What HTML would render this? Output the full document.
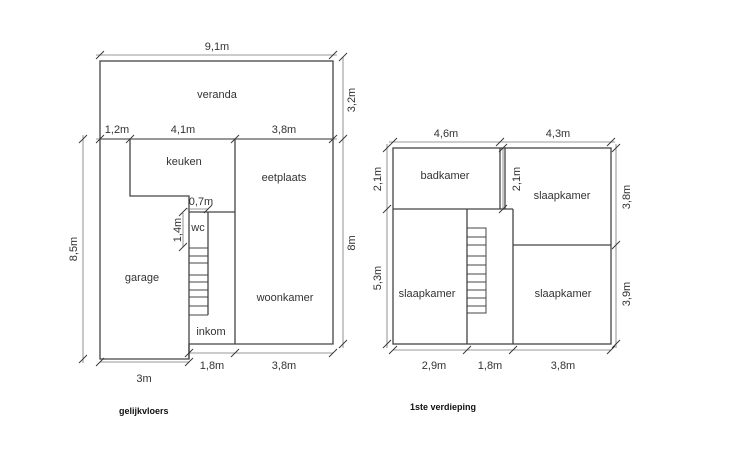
<!DOCTYPE html>
<html><head><meta charset="utf-8"><style>
html,body{margin:0;padding:0;background:#fff;}
svg{display:block}
text{font-family:"Liberation Sans",sans-serif;font-size:11px;fill:#333;}
</style></head><body>
<svg width="736" height="461" viewBox="0 0 736 461" xmlns="http://www.w3.org/2000/svg">
<g stroke="#444" stroke-width="1.3" fill="none">
<!-- left plan -->
<rect x="100" y="61" width="233" height="78"/>
<polyline points="100,139 100,359 189,359 189,344 333,344 333,139"/>
<polyline points="130,139 130,196 189,196 189,359"/>
<line x1="189" y1="212" x2="235" y2="212"/>
<line x1="208" y1="212" x2="208" y2="315"/>
<line x1="235" y1="139" x2="235" y2="344"/>
<g stroke-width="1">
<line x1="189" y1="248" x2="208" y2="248"/><line x1="189" y1="256" x2="208" y2="256"/>
<line x1="189" y1="263" x2="208" y2="263"/><line x1="189" y1="275" x2="208" y2="275"/>
<line x1="189" y1="282" x2="208" y2="282"/><line x1="189" y1="290" x2="208" y2="290"/>
<line x1="189" y1="297" x2="208" y2="297"/><line x1="189" y1="306" x2="208" y2="306"/>
<line x1="189" y1="315" x2="208" y2="315"/>
</g>
<!-- right plan -->
<rect x="393" y="148" width="218" height="196"/>
<line x1="393" y1="209" x2="513" y2="209"/>
<line x1="500" y1="148" x2="500" y2="209"/>
<line x1="505" y1="148" x2="505" y2="209"/>
<line x1="467" y1="209" x2="467" y2="344"/>
<line x1="513" y1="209" x2="513" y2="344"/>
<line x1="513" y1="245" x2="611" y2="245"/>
<g stroke-width="1">
<rect x="467" y="228" width="19" height="85"/>
<line x1="467" y1="237" x2="486" y2="237"/><line x1="467" y1="245" x2="486" y2="245"/>
<line x1="467" y1="256" x2="486" y2="256"/><line x1="467" y1="265" x2="486" y2="265"/>
<line x1="467" y1="274" x2="486" y2="274"/><line x1="467" y1="282" x2="486" y2="282"/>
<line x1="467" y1="290" x2="486" y2="290"/><line x1="467" y1="298" x2="486" y2="298"/>
<line x1="467" y1="306" x2="486" y2="306"/>
</g>
</g>
<!-- dimension lines -->
<g stroke="#777" stroke-width="0.8" fill="none">
<line x1="96" y1="55" x2="337" y2="55"/>
<line x1="343" y1="57" x2="343" y2="348"/>
<line x1="83" y1="135" x2="83" y2="363"/>
<line x1="96" y1="139" x2="337" y2="139"/>
<line x1="100" y1="362" x2="189" y2="362"/>
<line x1="189" y1="353" x2="333" y2="353"/>
<line x1="183" y1="213" x2="183" y2="247"/>
<line x1="187" y1="209" x2="208" y2="209"/>
<line x1="389" y1="142" x2="615" y2="142"/>
<line x1="616" y1="144" x2="616" y2="348"/>
<line x1="387" y1="144" x2="387" y2="348"/>
<line x1="393" y1="350" x2="611" y2="350"/>
<line x1="503" y1="148" x2="503" y2="209"/>
</g>
<g stroke="#333" stroke-width="0.9">
<path d="M96,59l8,-8M329,59l8,-8M339,61l8,-8M339,143l8,-8M339,348l8,-8M79,143l8,-8M79,363l8,-8M96,143l8,-8M126,143l8,-8M231,143l8,-8M329,143l8,-8M96,366l8,-8M185,366l8,-8M185,357l8,-8M231,357l8,-8M329,357l8,-8M179,216l8,-8M179,251l8,-8M204,213l8,-8"/>
<path d="M389,146l8,-8M496,146l8,-8M607,146l8,-8M612,152l8,-8M612,249l8,-8M612,348l8,-8M383,152l8,-8M383,213l8,-8M383,348l8,-8M389,354l8,-8M463,354l8,-8M509,354l8,-8M607,354l8,-8M499,152l8,-8M499,213l8,-8"/>
</g>
<!-- labels -->
<g text-anchor="middle">
<text x="217" y="50">9,1m</text>
<text x="217" y="98">veranda</text>
<text x="117" y="133">1,2m</text>
<text x="183" y="133">4,1m</text>
<text x="284" y="133">3,8m</text>
<text x="184" y="165">keuken</text>
<text x="284" y="181">eetplaats</text>
<text x="201" y="205">0,7m</text>
<text x="198" y="231">wc</text>
<text x="142" y="281">garage</text>
<text x="285" y="301">woonkamer</text>
<text x="211" y="335">inkom</text>
<text x="144" y="382">3m</text>
<text x="212" y="369">1,8m</text>
<text x="284" y="369">3,8m</text>
<text x="446" y="137">4,6m</text>
<text x="558" y="137">4,3m</text>
<text x="445" y="179">badkamer</text>
<text x="562" y="199">slaapkamer</text>
<text x="427" y="297">slaapkamer</text>
<text x="563" y="297">slaapkamer</text>
<text x="434" y="369">2,9m</text>
<text x="490" y="369">1,8m</text>
<text x="563" y="369">3,8m</text>
<text transform="translate(355,100) rotate(-90)">3,2m</text>
<text transform="translate(355,243) rotate(-90)">8m</text>
<text transform="translate(77,249) rotate(-90)">8,5m</text>
<text transform="translate(181,230) rotate(-90)">1,4m</text>
<text transform="translate(381,179) rotate(-90)">2,1m</text>
<text transform="translate(520,179) rotate(-90)">2,1m</text>
<text transform="translate(381,278) rotate(-90)">5,3m</text>
<text transform="translate(630,197) rotate(-90)">3,8m</text>
<text transform="translate(630,294) rotate(-90)">3,9m</text>
</g>
<text x="119" y="414" style="font-size:9px;font-weight:bold;fill:#111">gelijkvloers</text>
<text x="410" y="410" style="font-size:9px;font-weight:bold;fill:#111">1ste verdieping</text>
</svg>
</body></html>
